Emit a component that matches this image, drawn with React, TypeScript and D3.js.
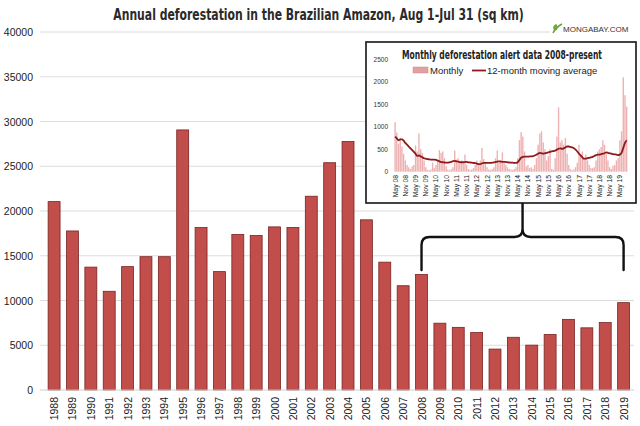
import React, { useLayoutEffect, useRef } from 'react';
import * as d3 from 'd3';

// Annual deforestation (sq km), Aug 1 - Jul 31
const years = [
  '1988', '1989', '1990', '1991', '1992', '1993', '1994', '1995', '1996', '1997', '1998',
  '1999', '2000', '2001', '2002', '2003', '2004', '2005', '2006', '2007', '2008', '2009',
  '2010', '2011', '2012', '2013', '2014', '2015', '2016', '2017', '2018', '2019',
];
const annual = [
  21050, 17770, 13730, 11030, 13786, 14896, 14896, 29059, 18161, 13227, 17383,
  17259, 18226, 18165, 21651, 25396, 27772, 19014, 14286, 11651, 12911, 7464,
  7000, 6418, 4571, 5891, 5012, 6207, 7893, 6947, 7536, 9762,
];
const yTicks = [0, 5000, 10000, 15000, 20000, 25000, 30000, 35000, 40000];

// Monthly alert data, May 2008 - Sep 2019
const monthly = [
  1100, 870, 620, 750, 560, 400, 250, 150,
  100, 60, 120, 150, 580, 450, 850, 500, 420, 250, 100, 40,
  30, 50, 200, 80, 150, 250, 480, 420, 450, 300, 120, 50,
  30, 60, 100, 470, 270, 300, 230, 250, 200, 380, 150, 60,
  40, 50, 80, 150, 250, 150, 250, 530, 280, 200, 100, 50,
  40, 60, 100, 300, 470, 200, 250, 430, 200, 150, 100, 60,
  50, 40, 60, 100, 300, 700, 880, 780, 450, 120, 150, 80,
  100, 60, 150, 300, 600, 850, 900, 650, 500, 250, 350, 500,
  60, 40, 300, 780, 1430, 650, 700, 600, 750, 400, 150, 60,
  30, 50, 100, 200, 600, 400, 450, 300, 380, 250, 150, 80,
  80, 100, 250, 450, 500, 550, 700, 600, 400, 250, 100, 60,
  130, 150, 250, 300, 700, 900, 2100, 1700, 1450,
];
const movingAvg = [
  780, 740, 700, 720, 720, 690, 640, 600,
  560, 520, 480, 440, 400, 350, 360, 340, 320, 300, 290, 280,
  275, 270, 270, 270, 265, 250, 230, 215, 210, 205, 200, 200,
  210, 220, 235, 240, 230, 225, 215, 210, 210, 215, 220, 210,
  205, 200, 195, 190, 180, 170, 170, 185, 195, 195, 195, 195,
  195, 200, 205, 215, 225, 230, 225, 220, 220, 215, 210, 205,
  200, 200, 195, 195, 210, 260, 310, 330, 335, 335, 335, 340,
  340, 345, 360, 380, 400, 420, 410, 400, 410, 420, 430, 440,
  450, 460, 470, 490, 510, 520, 510, 520, 540, 560, 560, 550,
  540, 520, 490, 450, 400, 360, 320, 290, 290, 300, 310, 320,
  330, 350, 370, 380, 380, 390, 400, 410, 430, 420, 410, 400,
  390, 385, 380, 370, 380, 420, 530, 640, 700,
];
const monthTickLabels = [
  'May 08', 'Nov 08', 'May 09', 'Nov 09', 'May 10', 'Nov 10', 'May 11', 'Nov 11',
  'May 12', 'Nov 12', 'May 13', 'Nov 13', 'May 14', 'Nov 14', 'May 15', 'Nov 15',
  'May 16', 'Nov 16', 'May 17', 'Nov 17', 'May 18', 'Nov 18', 'May 19',
];
const insetYTicks = [0, 500, 1000, 1500, 2000, 2500];

const font = "'Liberation Sans', Arial, Helvetica, sans-serif";
const condensed = "'Liberation Sans Narrow', 'DejaVu Sans Condensed', 'Liberation Sans', sans-serif";

// text squeezed horizontally to a target width (measured, then scaled)
const FitText: React.FC<{ cx: number; y: number; w: number; size: number; fam: string; bold?: boolean; fill: string; children: string }> =
  ({ cx, y, w, size, fam, bold, fill, children }) => {
    const ref = useRef<SVGTextElement>(null);
    useLayoutEffect(() => {
      const el = ref.current;
      if (!el) return;
      const nat = el.getComputedTextLength();
      const k = nat > 0 ? w / nat : 1;
      el.setAttribute('transform', `translate(${cx},${y}) scale(${k},1)`);
    }, [cx, y, w]);
    return (
      <text ref={ref} x={0} y={0} transform={`translate(${cx},${y})`} textAnchor="middle"
        fontFamily={fam} fontWeight={bold ? 700 : 400} fontSize={size} fill={fill}>{children}</text>
    );
  };

const App: React.FC = () => {
  const width = 640;
  const height = 426;

  // main chart scales
  const x = d3.scaleBand().domain(years).range([41.7, 636]).padding(0.35);
  const y = d3.scaleLinear().domain([0, 40000]).range([390, 32]);

  // inset scales
  const months = monthly.map((_, i) => i);
  const ix = d3.scaleBand<number>().domain(months).range([394.1, 627.7]).padding(0.2);
  const iy = d3.scaleLinear().domain([0, 2500]).range([171.7, 59.3]);
  const maLine = d3.line<number>()
    .x((_, i) => ix(i)! + ix.bandwidth() / 2)
    .y(d => iy(d))
    .curve(d3.curveMonotoneX);

  // bracket over 2008-2019
  const bl = x('2008')! + x.bandwidth() / 2;
  const br = x('2019')! + x.bandwidth() / 2;
  const bm = (bl + br) / 2;
  const bEnd = 270, bMid = 237, bTop = 203, r = 8;
  const bracket = [
    `M${bl},${bEnd} L${bl},${bMid + r} Q${bl},${bMid} ${bl + r},${bMid}`,
    `L${bm - r},${bMid} Q${bm},${bMid} ${bm},${bMid - r} L${bm},${bTop}`,
    `M${bm},${bMid - r} Q${bm},${bMid} ${bm + r},${bMid} L${br - r},${bMid}`,
    `Q${br},${bMid} ${br},${bMid + r} L${br},${bEnd}`,
  ].join(' ');

  return (
    <svg width={width} height={height} style={{ position: 'absolute', left: 0, top: 0, background: '#fff' }}>
      <FitText cx={318.5} y={20} w={411} size={16} fam={condensed} bold fill="#2a2a2a">
        Annual deforestation in the Brazilian Amazon, Aug 1-Jul 31 (sq km)
      </FitText>

      {/* gridlines + y labels */}
      {yTicks.map(t => (
        <g key={t}>
          {t > 0 && <line x1={40} x2={634} y1={y(t)} y2={y(t)} stroke="#dcdcdc" strokeWidth={1} />}
          <text x={33} y={y(t)} textAnchor="end" dominantBaseline="central" fontFamily={font}
            fontSize={10.5} fill="#222">{t}</text>
        </g>
      ))}

      {/* logo */}
      <rect x={550} y={22} width={86} height={14} fill="#fff" />
      <path d="M553,33 C555,29 558,26 562,24 M555,30 C553,28 554,26 556,25 C557,27 557,29 555,30 Z"
        stroke="#6aa53a" strokeWidth={1.6} fill="#8cc152" />
      <text x={563} y={29} dominantBaseline="central" fontFamily={font} fontSize={8} fill="#333">MONGABAY.COM</text>

      {/* bars */}
      {years.map((yr, i) => (
        <rect key={yr} x={x(yr)} y={y(annual[i])} width={x.bandwidth()} height={y(0) - y(annual[i])}
          fill="#c24e4b" stroke="#7a2323" strokeWidth={0.8} />
      ))}
      <line x1={40} x2={634} y1={y(0)} y2={y(0)} stroke="#cfcfcf" strokeWidth={1} />

      {/* x labels */}
      {years.map(yr => (
        <text key={yr} transform={`translate(${x(yr)! + x.bandwidth() / 2},397) rotate(-90)`}
          textAnchor="end" dominantBaseline="central" fontFamily={font} fontSize={10.5} fill="#222">{yr}</text>
      ))}

      {/* bracket */}
      <path d={bracket} fill="none" stroke="#111" strokeWidth={2.4} strokeLinecap="round" strokeLinejoin="round" />

      {/* inset */}
      <rect x={366} y={42} width={270} height={161} fill="#fff" stroke="#151515" strokeWidth={1.6} />
      <FitText cx={502} y={59} w={200} size={11.5} fam={condensed} bold fill="#222">
        Monthly deforestation alert data 2008-present
      </FitText>
      <rect x={413} y={67} width={15} height={6} fill="#e3a0a0" stroke="#cf8a8a" strokeWidth={0.5} />
      <text x={430} y={70.5} dominantBaseline="central" fontFamily={font} fontSize={9.5} fill="#222">Monthly</text>
      <line x1={472} x2={486} y1={70.5} y2={70.5} stroke="#8e1b1b" strokeWidth={1.8} />
      <text x={487} y={70.5} dominantBaseline="central" fontFamily={font} fontSize={9.5} fill="#222">12-month moving average</text>

      {insetYTicks.map(t => (
        <text key={t} x={388} y={iy(t)} textAnchor="end" dominantBaseline="central" fontFamily={font}
          fontSize={6.5} fill="#333">{t}</text>
      ))}

      {monthly.map((v, i) => (
        <rect key={i} x={ix(i)} y={iy(v)} width={ix.bandwidth()} height={iy(0) - iy(v)} fill="#eeb0b0" />
      ))}
      <path d={maLine(movingAvg) || ''} fill="none" stroke="#8e1b1b" strokeWidth={1.8} />

      {monthTickLabels.map((lab, k) => (
        <text key={lab} transform={`translate(${ix(k * 6)! + ix.bandwidth() / 2},175) rotate(-90)`}
          textAnchor="end" dominantBaseline="central" fontFamily={font} fontSize={6.8} fill="#222">{lab}</text>
      ))}
    </svg>
  );
};

export default App;
